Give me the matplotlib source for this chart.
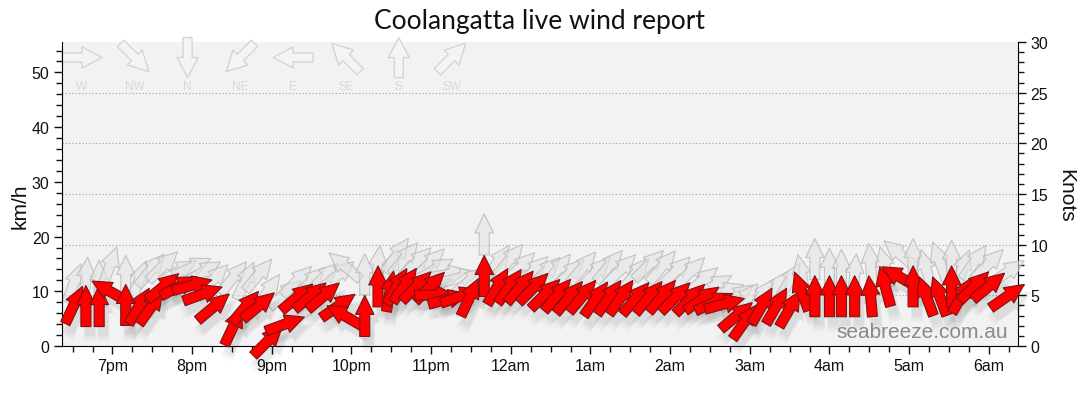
import matplotlib
matplotlib.use('Agg')
import matplotlib.pyplot as plt
import matplotlib.dates as mdates
import numpy as np
import pandas as pd
from matplotlib.collections import PolyCollection
from matplotlib.transforms import IdentityTransform
from matplotlib.ticker import MultipleLocator, FuncFormatter

# observation times (local), average wind and gusts in km/h, direction wind comes FROM (deg)
times = ['18:31', '18:40', '18:50', '18:58', '19:10', '19:20', '19:29', '19:38', '19:50', '20:00',
         '20:08', '20:16', '20:31', '20:40', '20:50', '20:57', '21:10', '21:19', '21:29', '21:39',
         '21:50', '21:55', '22:10', '22:20', '22:29', '22:34', '22:40', '22:49', '22:59', '23:03',
         '23:13', '23:22', '23:29', '23:40', '23:50', '23:59', '00:07', '00:17', '00:26', '00:35',
         '00:44', '00:54', '01:04', '01:14', '01:23', '01:34', '01:44', '01:54', '02:04', '02:15',
         '02:24', '02:33', '02:41', '02:50', '02:56', '03:09', '03:20', '03:30', '03:39', '03:49',
         '04:00', '04:09', '04:19', '04:31', '04:42', '04:53', '05:03', '05:13', '05:23', '05:32',
         '05:40', '05:49', '06:00', '06:14']
avg_kmh = [7.5, 7.3, 7.3, 10.0, 7.5, 7.3, 7.1, 10.8, 10.9, 11.1,
           9.5, 7.1, 3.6, 7.1, 7.3, 0.9, 4.0, 8.9, 9.1, 9.1,
           7.3, 5.5, 5.5, 10.9, 10.0, 10.9, 11.1, 10.9, 10.8, 9.3,
           8.6, 9.1, 8.9, 12.8, 10.9, 10.9, 10.8, 10.6, 9.5, 9.3,
           8.9, 9.1, 8.6, 8.9, 8.9, 8.7, 8.9, 9.1, 8.9, 8.6,
           8.6, 8.0, 7.7, 5.5, 4.4, 7.3, 7.3, 6.8, 10.0, 9.1,
           9.1, 9.1, 9.1, 9.1, 10.9, 12.6, 10.9, 9.1, 9.1, 10.9,
           9.3, 10.9, 10.9, 9.1]
avg_dir = [205, 180, 180, 120, 180, 210, 215, 230, 242, 255,
           250, 230, 205, 220, 230, 225, 250, 230, 230, 230,
           235, 120, 180, 180, 190, 210, 215, 225, 225, 270,
           255, 250, 205, 180, 210, 215, 220, 225, 225, 220,
           220, 220, 215, 215, 215, 220, 220, 220, 225, 225,
           235, 245, 255, 230, 215, 210, 210, 210, 160, 180,
           180, 180, 180, 175, 165, 120, 180, 160, 160, 180,
           210, 225, 230, 235]
gust_kmh = [11.5, 12.5, 11.9, 14.6, 12.8, 12.0, 13.9, 14.6, 13.7, 14.4,
            13.5, 12.2, 12.5, 11.9, 13.0, 10.0, 9.5, 11.9, 11.7, 12.5,
            13.0, 14.6, 13.1, 14.6, 14.0, 16.6, 16.0, 15.3, 15.1, 14.0,
            13.1, 12.5, 11.9, 20.4, 15.3, 15.7, 14.4, 13.7, 13.5, 13.9,
            13.2, 14.3, 13.5, 14.6, 14.0, 13.2, 14.8, 14.5, 13.6, 13.5,
            11.9, 11.0, 9.9, 9.0, 8.5, 9.1, 10.6, 11.9, 13.0, 15.9,
            14.1, 13.9, 13.1, 15.0, 14.5, 16.8, 15.9, 14.0, 15.5, 15.6,
            14.0, 15.3, 15.0, 13.5]
gust_dir = [200, 185, 180, 200, 180, 200, 220, 225, 240, 245,
            240, 225, 220, 205, 220, 215, 230, 225, 225, 225,
            230, 130, 180, 185, 200, 215, 220, 225, 225, 240,
            260, 255, 230, 180, 215, 220, 225, 225, 225, 220,
            225, 220, 225, 220, 225, 220, 225, 220, 225, 225,
            230, 240, 250, 235, 220, 215, 215, 210, 170, 180,
            180, 180, 185, 175, 165, 130, 180, 165, 160, 180,
            200, 215, 225, 235]

compass_names = ['W', 'NW', 'N', 'NE', 'E', 'SE', 'S', 'SW']
compass_from = [270, 315, 0, 45, 90, 135, 180, 225]

KMH_PER_KNOT = 1.852


def to_dates(tt):
    base = pd.Timestamp('2024-01-01')
    out = []
    for t in tt:
        h, m = map(int, t.split(':'))
        d = base + pd.Timedelta(hours=h, minutes=m)
        if h < 12:
            d += pd.Timedelta(days=1)
        out.append(d)
    return mdates.date2num(out)


def arrow_verts(wdir, length=41, shaft=10, head=18.5, headlen=19, dx=0, dy=0):
    """arrow in pixels, pointing where the wind blows to"""
    L = length / 2.
    pts = np.array([[-shaft/2, -L], [shaft/2, -L], [shaft/2, L-headlen], [head/2, L-headlen],
                    [0, L], [-head/2, L-headlen], [-shaft/2, L-headlen]])
    t = np.radians((wdir + 180) % 360)
    c, s = np.cos(t), np.sin(t)
    x = pts[:, 0]*c + pts[:, 1]*s
    y = -pts[:, 0]*s + pts[:, 1]*c
    return np.column_stack([x + dx, y + dy])


def add_arrows(ax, offs, dirs, trans, zorder, vkw={}, **kw):
    verts = [arrow_verts(d, **vkw) for d in dirs]
    pc = PolyCollection(verts, offsets=offs, offset_transform=trans, zorder=zorder, **kw)
    pc.set_transform(IdentityTransform())
    pc.set_clip_on(False)
    ax.add_collection(pc, autolim=False)
    return pc


xt = to_dates(times)

fig = plt.figure(figsize=(10.8, 4.14), dpi=100)
ax = fig.add_axes([62/1080., 67/414., 956/1080., 304/414.])
ax2 = ax.twinx()
ax.set_zorder(2)
ax2.set_zorder(1)
ax.patch.set_visible(False)
ax2.patch.set_visible(True)
ax2.patch.set_facecolor('#f2f2f2')

ax.set_xlim(to_dates(['18:22'])[0], to_dates(['06:22'])[0])
ax.set_ylim(0, 30*KMH_PER_KNOT)
ax2.set_ylim(0, 30)

for k in [5, 10, 15, 20, 25]:
    ax2.axhline(k, color='#a0a0a0', lw=0.8, ls=(0, (1, 2)), zorder=1)

# gusts
add_arrows(ax, np.column_stack([xt, gust_kmh]), gust_dir, ax.transData, 2,
           facecolor=(0.89, 0.89, 0.89, 0.6), edgecolor=(0.72, 0.72, 0.72, 0.8), linewidths=0.8)

# soft shadows under the average wind arrows
for sc, a in [(1.0, 0.035), (1.15, 0.03), (1.3, 0.025)]:
    add_arrows(ax, np.column_stack([xt, avg_kmh]), avg_dir, ax.transData, 3,
               vkw=dict(length=41*sc, shaft=10*sc, head=18.5*sc, headlen=19*sc, dx=4, dy=-9),
               facecolor=(0, 0, 0, a), edgecolor='none')

# average wind
add_arrows(ax, np.column_stack([xt, avg_kmh]), avg_dir, ax.transData, 4,
           facecolor='#ff0000', edgecolor='#7a1414', linewidths=0.8)

# compass key along the top
kx = 0.0209 + 0.05523*np.arange(len(compass_names))
add_arrows(ax, np.column_stack([kx, np.full(len(kx), 0.949)]), compass_from, ax.transAxes, 1.5,
           vkw=dict(head=21, shaft=9, headlen=20, length=40),
           facecolor='#f4f4f4', edgecolor='#d2d2d2', linewidths=0.9)
for x, n in zip(kx, compass_names):
    ax.text(x, 0.855, n, transform=ax.transAxes, ha='center', va='center',
            fontsize=8.5, color='#d8d8d8', family='Liberation Sans')

ax.text(0.9895, 0.03, 'seabreeze.com.au', transform=ax.transAxes, ha='right', va='baseline',
        fontsize=15, color='#8a8a8a', family='Liberation Sans', zorder=5)

# axes cosmetics
ax.xaxis.set_major_locator(mdates.HourLocator())
ax.xaxis.set_minor_locator(mdates.MinuteLocator(byminute=[15, 30, 45]))


def ampm(x, pos):
    h = mdates.num2date(x).hour
    return '%d%s' % (h % 12 or 12, 'am' if h < 12 else 'pm')


ax.xaxis.set_major_formatter(FuncFormatter(ampm))
ax.yaxis.set_major_locator(MultipleLocator(10))
ax.yaxis.set_minor_locator(MultipleLocator(2))
ax2.yaxis.set_major_locator(MultipleLocator(5))
ax2.yaxis.set_minor_locator(MultipleLocator(1))

for a in (ax, ax2):
    a.tick_params(which='major', direction='out', length=6, width=1, labelsize=11.5,
                  colors='#111', pad=3)
    a.tick_params(which='minor', direction='out', length=4, width=1, colors='#111')
    a.spines['top'].set_visible(False)
    for lab in a.get_xticklabels() + a.get_yticklabels():
        lab.set_family('Liberation Sans')
ax.spines['right'].set_visible(False)
ax2.spines['left'].set_visible(False)
ax2.spines['bottom'].set_visible(False)

fig.text(0.5, 1 - 22/414., 'Coolangatta live wind report', ha='center', va='center',
         fontsize=19, family='Lato', color='#111')
fig.text(20/1080., 1 - 206/414., 'km/h', rotation=90, ha='center', va='center',
         fontsize=15, family='Liberation Sans', color='#111')
fig.text(1066/1080., 1 - 196/414., 'Knots', rotation=270, ha='center', va='center',
         fontsize=15, family='Liberation Sans', color='#111')

fig.savefig('out.png', dpi=100)
